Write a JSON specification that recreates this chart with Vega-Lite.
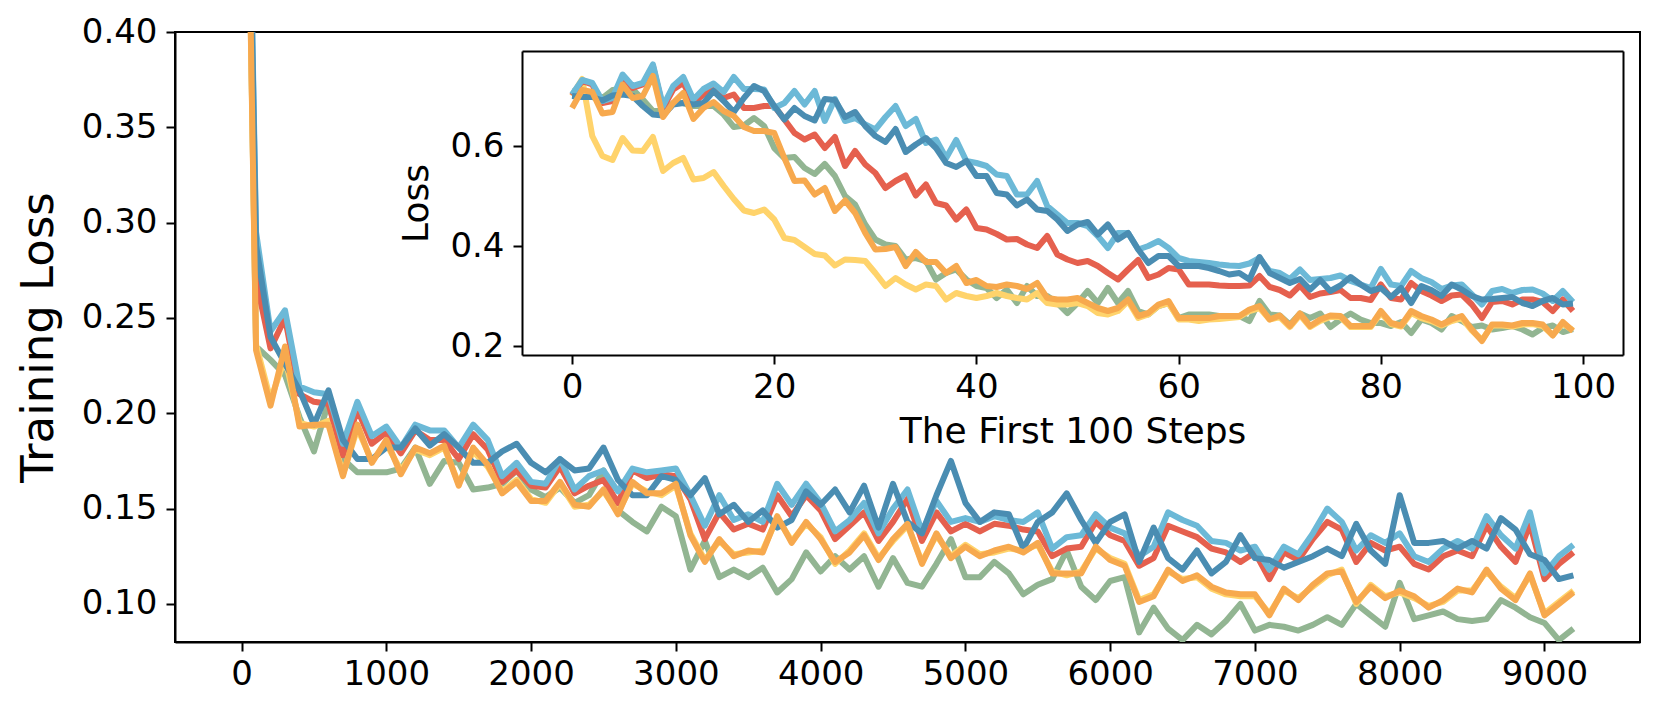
{
"$schema": "https://vega.github.io/schema/vega-lite/v6.json",
"width": 1465, "height": 610,
"autosize": "none",
"padding": {"left": 175, "top": 32, "right": 21, "bottom": 73},
"background": "white",
"config": {
 "view": {"stroke": "black", "strokeWidth": 2},
 "font": "DejaVu Sans",
 "line": {"strokeWidth": 6, "strokeJoin": "round", "strokeCap": "butt"},
 "axis": {"labelFont": "DejaVu Sans", "titleFont": "DejaVu Sans", "labelColor": "black", "titleColor": "black", "domainColor": "black", "tickColor": "black", "grid": false, "tickWidth": 2, "domainWidth": 2, "tickSize": 9, "labelFlush": false, "labelOverlap": false, "titleFontWeight": "normal"}
},
"datasets": {
"main": [
{"step":0,"lb":0.70,"db":0.70,"r":0.70,"g":0.70,"o":0.69,"yl":0.69},
{"step":100,"lb":0.295,"db":0.288,"r":0.270,"g":0.235,"o":0.233,"yl":0.236},
{"step":200,"lb":0.243,"db":0.240,"r":0.234,"g":0.228,"o":0.204,"yl":0.207},
{"step":300,"lb":0.254,"db":0.226,"r":0.250,"g":0.220,"o":0.235,"yl":0.229},
{"step":400,"lb":0.214,"db":0.212,"r":0.210,"g":0.198,"o":0.193,"yl":0.195},
{"step":500,"lb":0.211,"db":0.194,"r":0.206,"g":0.180,"o":0.194,"yl":0.193},
{"step":600,"lb":0.210,"db":0.212,"r":0.205,"g":0.206,"o":0.194,"yl":0.196},
{"step":700,"lb":0.184,"db":0.186,"r":0.178,"g":0.176,"o":0.167,"yl":0.168},
{"step":800,"lb":0.206,"db":0.176,"r":0.202,"g":0.169,"o":0.194,"yl":0.192},
{"step":900,"lb":0.188,"db":0.176,"r":0.184,"g":0.169,"o":0.174,"yl":0.175},
{"step":1000,"lb":0.193,"db":0.182,"r":0.190,"g":0.169,"o":0.186,"yl":0.184},
{"step":1100,"lb":0.182,"db":0.182,"r":0.179,"g":0.171,"o":0.168,"yl":0.170},
{"step":1200,"lb":0.194,"db":0.192,"r":0.191,"g":0.182,"o":0.182,"yl":0.181},
{"step":1300,"lb":0.191,"db":0.183,"r":0.186,"g":0.163,"o":0.179,"yl":0.178},
{"step":1400,"lb":0.191,"db":0.189,"r":0.186,"g":0.175,"o":0.183,"yl":0.182},
{"step":1500,"lb":0.182,"db":0.182,"r":0.176,"g":0.174,"o":0.162,"yl":0.163},
{"step":1600,"lb":0.194,"db":0.174,"r":0.189,"g":0.160,"o":0.182,"yl":0.180},
{"step":1700,"lb":0.186,"db":0.174,"r":0.181,"g":0.161,"o":0.173,"yl":0.172},
{"step":1800,"lb":0.167,"db":0.180,"r":0.164,"g":0.163,"o":0.158,"yl":0.159},
{"step":1900,"lb":0.174,"db":0.184,"r":0.170,"g":0.170,"o":0.164,"yl":0.165},
{"step":2000,"lb":0.164,"db":0.174,"r":0.162,"g":0.160,"o":0.154,"yl":0.155},
{"step":2100,"lb":0.163,"db":0.169,"r":0.161,"g":0.156,"o":0.154,"yl":0.153},
{"step":2200,"lb":0.176,"db":0.176,"r":0.172,"g":0.161,"o":0.164,"yl":0.163},
{"step":2300,"lb":0.160,"db":0.170,"r":0.158,"g":0.153,"o":0.152,"yl":0.151},
{"step":2400,"lb":0.167,"db":0.171,"r":0.162,"g":0.157,"o":0.151,"yl":0.152},
{"step":2500,"lb":0.170,"db":0.182,"r":0.165,"g":0.170,"o":0.160,"yl":0.159},
{"step":2600,"lb":0.159,"db":0.165,"r":0.153,"g":0.149,"o":0.147,"yl":0.148},
{"step":2700,"lb":0.171,"db":0.157,"r":0.170,"g":0.143,"o":0.164,"yl":0.163},
{"step":2800,"lb":0.169,"db":0.157,"r":0.166,"g":0.138,"o":0.158,"yl":0.159},
{"step":2900,"lb":0.170,"db":0.167,"r":0.168,"g":0.151,"o":0.158,"yl":0.157},
{"step":3000,"lb":0.171,"db":0.165,"r":0.167,"g":0.146,"o":0.163,"yl":0.162},
{"step":3100,"lb":0.157,"db":0.157,"r":0.155,"g":0.118,"o":0.136,"yl":0.137},
{"step":3200,"lb":0.141,"db":0.166,"r":0.134,"g":0.133,"o":0.122,"yl":0.123},
{"step":3300,"lb":0.157,"db":0.147,"r":0.148,"g":0.114,"o":0.134,"yl":0.133},
{"step":3400,"lb":0.144,"db":0.152,"r":0.139,"g":0.118,"o":0.125,"yl":0.126},
{"step":3500,"lb":0.147,"db":0.143,"r":0.142,"g":0.114,"o":0.128,"yl":0.127},
{"step":3600,"lb":0.143,"db":0.149,"r":0.139,"g":0.119,"o":0.127,"yl":0.128},
{"step":3700,"lb":0.163,"db":0.140,"r":0.157,"g":0.106,"o":0.146,"yl":0.145},
{"step":3800,"lb":0.152,"db":0.144,"r":0.146,"g":0.113,"o":0.132,"yl":0.133},
{"step":3900,"lb":0.163,"db":0.159,"r":0.157,"g":0.127,"o":0.143,"yl":0.142},
{"step":4000,"lb":0.153,"db":0.152,"r":0.149,"g":0.117,"o":0.134,"yl":0.135},
{"step":4100,"lb":0.138,"db":0.160,"r":0.134,"g":0.125,"o":0.122,"yl":0.121},
{"step":4200,"lb":0.144,"db":0.148,"r":0.141,"g":0.118,"o":0.127,"yl":0.128},
{"step":4300,"lb":0.153,"db":0.162,"r":0.148,"g":0.125,"o":0.136,"yl":0.137},
{"step":4400,"lb":0.137,"db":0.140,"r":0.133,"g":0.109,"o":0.123,"yl":0.124},
{"step":4500,"lb":0.150,"db":0.163,"r":0.143,"g":0.124,"o":0.134,"yl":0.133},
{"step":4600,"lb":0.160,"db":0.143,"r":0.155,"g":0.111,"o":0.142,"yl":0.141},
{"step":4700,"lb":0.138,"db":0.137,"r":0.133,"g":0.109,"o":0.121,"yl":0.122},
{"step":4800,"lb":0.154,"db":0.157,"r":0.148,"g":0.121,"o":0.137,"yl":0.136},
{"step":4900,"lb":0.143,"db":0.175,"r":0.138,"g":0.134,"o":0.124,"yl":0.125},
{"step":5000,"lb":0.145,"db":0.153,"r":0.142,"g":0.114,"o":0.130,"yl":0.131},
{"step":5100,"lb":0.143,"db":0.143,"r":0.138,"g":0.114,"o":0.125,"yl":0.126},
{"step":5200,"lb":0.146,"db":0.148,"r":0.142,"g":0.122,"o":0.128,"yl":0.127},
{"step":5300,"lb":0.144,"db":0.147,"r":0.141,"g":0.116,"o":0.130,"yl":0.129},
{"step":5400,"lb":0.143,"db":0.129,"r":0.139,"g":0.105,"o":0.127,"yl":0.128},
{"step":5500,"lb":0.148,"db":0.143,"r":0.138,"g":0.110,"o":0.132,"yl":0.131},
{"step":5600,"lb":0.129,"db":0.148,"r":0.125,"g":0.113,"o":0.116,"yl":0.117},
{"step":5700,"lb":0.135,"db":0.158,"r":0.129,"g":0.128,"o":0.116,"yl":0.115},
{"step":5800,"lb":0.136,"db":0.144,"r":0.130,"g":0.109,"o":0.116,"yl":0.117},
{"step":5900,"lb":0.147,"db":0.132,"r":0.143,"g":0.102,"o":0.130,"yl":0.129},
{"step":6000,"lb":0.140,"db":0.143,"r":0.136,"g":0.112,"o":0.123,"yl":0.124},
{"step":6100,"lb":0.137,"db":0.147,"r":0.133,"g":0.114,"o":0.120,"yl":0.121},
{"step":6200,"lb":0.125,"db":0.122,"r":0.120,"g":0.085,"o":0.101,"yl":0.102},
{"step":6300,"lb":0.130,"db":0.140,"r":0.124,"g":0.098,"o":0.104,"yl":0.105},
{"step":6400,"lb":0.148,"db":0.124,"r":0.141,"g":0.087,"o":0.118,"yl":0.117},
{"step":6500,"lb":0.144,"db":0.118,"r":0.138,"g":0.081,"o":0.112,"yl":0.113},
{"step":6600,"lb":0.141,"db":0.128,"r":0.135,"g":0.089,"o":0.115,"yl":0.114},
{"step":6700,"lb":0.133,"db":0.116,"r":0.129,"g":0.084,"o":0.109,"yl":0.108},
{"step":6800,"lb":0.132,"db":0.122,"r":0.127,"g":0.091,"o":0.106,"yl":0.105},
{"step":6900,"lb":0.128,"db":0.136,"r":0.122,"g":0.100,"o":0.105,"yl":0.104},
{"step":7000,"lb":0.130,"db":0.124,"r":0.127,"g":0.086,"o":0.105,"yl":0.104},
{"step":7100,"lb":0.118,"db":0.123,"r":0.113,"g":0.089,"o":0.094,"yl":0.095},
{"step":7200,"lb":0.130,"db":0.119,"r":0.127,"g":0.088,"o":0.108,"yl":0.107},
{"step":7300,"lb":0.126,"db":0.122,"r":0.123,"g":0.086,"o":0.102,"yl":0.103},
{"step":7400,"lb":0.137,"db":0.125,"r":0.134,"g":0.089,"o":0.110,"yl":0.109},
{"step":7500,"lb":0.150,"db":0.129,"r":0.143,"g":0.093,"o":0.116,"yl":0.115},
{"step":7600,"lb":0.143,"db":0.125,"r":0.139,"g":0.089,"o":0.117,"yl":0.118},
{"step":7700,"lb":0.128,"db":0.142,"r":0.122,"g":0.100,"o":0.101,"yl":0.100},
{"step":7800,"lb":0.136,"db":0.128,"r":0.132,"g":0.094,"o":0.109,"yl":0.110},
{"step":7900,"lb":0.132,"db":0.121,"r":0.128,"g":0.088,"o":0.103,"yl":0.104},
{"step":8000,"lb":0.137,"db":0.157,"r":0.130,"g":0.111,"o":0.107,"yl":0.106},
{"step":8100,"lb":0.125,"db":0.132,"r":0.121,"g":0.092,"o":0.104,"yl":0.103},
{"step":8200,"lb":0.122,"db":0.132,"r":0.118,"g":0.094,"o":0.098,"yl":0.099},
{"step":8300,"lb":0.129,"db":0.133,"r":0.125,"g":0.096,"o":0.102,"yl":0.101},
{"step":8400,"lb":0.133,"db":0.129,"r":0.128,"g":0.092,"o":0.108,"yl":0.107},
{"step":8500,"lb":0.129,"db":0.133,"r":0.125,"g":0.091,"o":0.106,"yl":0.107},
{"step":8600,"lb":0.146,"db":0.129,"r":0.141,"g":0.092,"o":0.118,"yl":0.117},
{"step":8700,"lb":0.136,"db":0.145,"r":0.130,"g":0.102,"o":0.108,"yl":0.109},
{"step":8800,"lb":0.129,"db":0.139,"r":0.122,"g":0.098,"o":0.102,"yl":0.103},
{"step":8900,"lb":0.148,"db":0.126,"r":0.142,"g":0.093,"o":0.116,"yl":0.115},
{"step":9000,"lb":0.116,"db":0.123,"r":0.113,"g":0.090,"o":0.094,"yl":0.095},
{"step":9100,"lb":0.125,"db":0.113,"r":0.121,"g":0.081,"o":0.100,"yl":0.101},
{"step":9200,"lb":0.131,"db":0.115,"r":0.127,"g":0.087,"o":0.106,"yl":0.107}
],
"inset": [
{"step":0,"lb":0.703,"db":0.700,"r":0.701,"g":0.710,"o":0.676,"yl":0.700},
{"step":1,"lb":0.732,"db":0.698,"r":0.730,"g":0.706,"o":0.712,"yl":0.734},
{"step":2,"lb":0.726,"db":0.698,"r":0.723,"g":0.705,"o":0.708,"yl":0.620},
{"step":3,"lb":0.690,"db":0.691,"r":0.686,"g":0.696,"o":0.665,"yl":0.580},
{"step":4,"lb":0.696,"db":0.701,"r":0.690,"g":0.712,"o":0.668,"yl":0.572},
{"step":5,"lb":0.743,"db":0.703,"r":0.738,"g":0.714,"o":0.723,"yl":0.616},
{"step":6,"lb":0.720,"db":0.700,"r":0.716,"g":0.713,"o":0.696,"yl":0.591},
{"step":7,"lb":0.726,"db":0.680,"r":0.723,"g":0.693,"o":0.700,"yl":0.590},
{"step":8,"lb":0.763,"db":0.663,"r":0.760,"g":0.670,"o":0.740,"yl":0.618},
{"step":9,"lb":0.680,"db":0.661,"r":0.676,"g":0.670,"o":0.658,"yl":0.550},
{"step":10,"lb":0.720,"db":0.683,"r":0.713,"g":0.686,"o":0.686,"yl":0.566},
{"step":11,"lb":0.738,"db":0.686,"r":0.726,"g":0.686,"o":0.706,"yl":0.576},
{"step":12,"lb":0.693,"db":0.683,"r":0.686,"g":0.680,"o":0.654,"yl":0.533},
{"step":13,"lb":0.714,"db":0.686,"r":0.703,"g":0.680,"o":0.676,"yl":0.536},
{"step":14,"lb":0.725,"db":0.710,"r":0.713,"g":0.680,"o":0.688,"yl":0.548},
{"step":15,"lb":0.708,"db":0.690,"r":0.696,"g":0.663,"o":0.670,"yl":0.520},
{"step":16,"lb":0.738,"db":0.668,"r":0.703,"g":0.638,"o":0.660,"yl":0.494},
{"step":17,"lb":0.714,"db":0.696,"r":0.676,"g":0.641,"o":0.638,"yl":0.471},
{"step":18,"lb":0.714,"db":0.720,"r":0.676,"g":0.656,"o":0.630,"yl":0.466},
{"step":19,"lb":0.713,"db":0.710,"r":0.680,"g":0.640,"o":0.630,"yl":0.473},
{"step":20,"lb":0.676,"db":0.680,"r":0.680,"g":0.596,"o":0.626,"yl":0.453},
{"step":21,"lb":0.686,"db":0.653,"r":0.653,"g":0.576,"o":0.576,"yl":0.416},
{"step":22,"lb":0.710,"db":0.676,"r":0.626,"g":0.578,"o":0.530,"yl":0.412},
{"step":23,"lb":0.683,"db":0.660,"r":0.613,"g":0.556,"o":0.531,"yl":0.398},
{"step":24,"lb":0.710,"db":0.651,"r":0.623,"g":0.544,"o":0.503,"yl":0.384},
{"step":25,"lb":0.650,"db":0.694,"r":0.596,"g":0.564,"o":0.516,"yl":0.381},
{"step":26,"lb":0.694,"db":0.692,"r":0.618,"g":0.540,"o":0.470,"yl":0.361},
{"step":27,"lb":0.650,"db":0.658,"r":0.560,"g":0.500,"o":0.491,"yl":0.373},
{"step":28,"lb":0.656,"db":0.668,"r":0.590,"g":0.483,"o":0.466,"yl":0.372},
{"step":29,"lb":0.643,"db":0.640,"r":0.563,"g":0.443,"o":0.426,"yl":0.370},
{"step":30,"lb":0.633,"db":0.620,"r":0.546,"g":0.413,"o":0.393,"yl":0.346},
{"step":31,"lb":0.658,"db":0.608,"r":0.516,"g":0.403,"o":0.394,"yl":0.320},
{"step":32,"lb":0.680,"db":0.634,"r":0.530,"g":0.400,"o":0.398,"yl":0.336},
{"step":33,"lb":0.640,"db":0.588,"r":0.541,"g":0.373,"o":0.360,"yl":0.323},
{"step":34,"lb":0.654,"db":0.603,"r":0.501,"g":0.376,"o":0.388,"yl":0.313},
{"step":35,"lb":0.606,"db":0.616,"r":0.523,"g":0.370,"o":0.368,"yl":0.323},
{"step":36,"lb":0.613,"db":0.596,"r":0.486,"g":0.333,"o":0.368,"yl":0.320},
{"step":37,"lb":0.576,"db":0.566,"r":0.481,"g":0.346,"o":0.346,"yl":0.293},
{"step":38,"lb":0.612,"db":0.558,"r":0.453,"g":0.353,"o":0.360,"yl":0.306},
{"step":39,"lb":0.570,"db":0.570,"r":0.473,"g":0.333,"o":0.326,"yl":0.300},
{"step":40,"lb":0.566,"db":0.540,"r":0.436,"g":0.320,"o":0.332,"yl":0.296},
{"step":41,"lb":0.560,"db":0.540,"r":0.433,"g":0.316,"o":0.320,"yl":0.300},
{"step":42,"lb":0.543,"db":0.506,"r":0.424,"g":0.296,"o":0.318,"yl":0.306},
{"step":43,"lb":0.540,"db":0.503,"r":0.413,"g":0.313,"o":0.323,"yl":0.300},
{"step":44,"lb":0.503,"db":0.481,"r":0.414,"g":0.286,"o":0.320,"yl":0.296},
{"step":45,"lb":0.503,"db":0.493,"r":0.403,"g":0.320,"o":0.314,"yl":0.293},
{"step":46,"lb":0.530,"db":0.473,"r":0.396,"g":0.300,"o":0.326,"yl":0.306},
{"step":47,"lb":0.480,"db":0.470,"r":0.420,"g":0.300,"o":0.296,"yl":0.286},
{"step":48,"lb":0.463,"db":0.453,"r":0.383,"g":0.286,"o":0.293,"yl":0.283},
{"step":49,"lb":0.446,"db":0.430,"r":0.373,"g":0.266,"o":0.293,"yl":0.283},
{"step":50,"lb":0.446,"db":0.443,"r":0.366,"g":0.286,"o":0.296,"yl":0.286},
{"step":51,"lb":0.440,"db":0.448,"r":0.370,"g":0.310,"o":0.286,"yl":0.280},
{"step":52,"lb":0.420,"db":0.423,"r":0.360,"g":0.286,"o":0.276,"yl":0.266},
{"step":53,"lb":0.396,"db":0.443,"r":0.346,"g":0.316,"o":0.270,"yl":0.263},
{"step":54,"lb":0.426,"db":0.413,"r":0.333,"g":0.286,"o":0.276,"yl":0.270},
{"step":55,"lb":0.426,"db":0.426,"r":0.353,"g":0.310,"o":0.293,"yl":0.290},
{"step":56,"lb":0.393,"db":0.393,"r":0.372,"g":0.270,"o":0.260,"yl":0.256},
{"step":57,"lb":0.400,"db":0.366,"r":0.336,"g":0.263,"o":0.266,"yl":0.263},
{"step":58,"lb":0.410,"db":0.380,"r":0.343,"g":0.280,"o":0.283,"yl":0.280},
{"step":59,"lb":0.396,"db":0.380,"r":0.356,"g":0.286,"o":0.290,"yl":0.286},
{"step":60,"lb":0.376,"db":0.360,"r":0.353,"g":0.256,"o":0.256,"yl":0.253},
{"step":61,"lb":0.370,"db":0.360,"r":0.323,"g":0.263,"o":0.256,"yl":0.253},
{"step":62,"lb":0.368,"db":0.360,"r":0.323,"g":0.263,"o":0.256,"yl":0.250},
{"step":63,"lb":0.366,"db":0.356,"r":0.323,"g":0.263,"o":0.256,"yl":0.253},
{"step":64,"lb":0.363,"db":0.350,"r":0.321,"g":0.260,"o":0.260,"yl":0.254},
{"step":65,"lb":0.361,"db":0.343,"r":0.320,"g":0.260,"o":0.260,"yl":0.256},
{"step":66,"lb":0.360,"db":0.346,"r":0.320,"g":0.260,"o":0.260,"yl":0.258},
{"step":67,"lb":0.365,"db":0.333,"r":0.321,"g":0.250,"o":0.273,"yl":0.270},
{"step":68,"lb":0.376,"db":0.378,"r":0.340,"g":0.290,"o":0.280,"yl":0.276},
{"step":69,"lb":0.350,"db":0.346,"r":0.318,"g":0.263,"o":0.253,"yl":0.253},
{"step":70,"lb":0.346,"db":0.336,"r":0.312,"g":0.261,"o":0.261,"yl":0.258},
{"step":71,"lb":0.334,"db":0.326,"r":0.301,"g":0.243,"o":0.240,"yl":0.238},
{"step":72,"lb":0.353,"db":0.334,"r":0.321,"g":0.265,"o":0.265,"yl":0.262},
{"step":73,"lb":0.332,"db":0.313,"r":0.298,"g":0.256,"o":0.240,"yl":0.238},
{"step":74,"lb":0.334,"db":0.332,"r":0.305,"g":0.265,"o":0.253,"yl":0.250},
{"step":75,"lb":0.336,"db":0.310,"r":0.308,"g":0.238,"o":0.261,"yl":0.258},
{"step":76,"lb":0.341,"db":0.321,"r":0.312,"g":0.253,"o":0.260,"yl":0.258},
{"step":77,"lb":0.330,"db":0.338,"r":0.296,"g":0.265,"o":0.240,"yl":0.238},
{"step":78,"lb":0.323,"db":0.323,"r":0.296,"g":0.253,"o":0.240,"yl":0.238},
{"step":79,"lb":0.316,"db":0.310,"r":0.292,"g":0.246,"o":0.240,"yl":0.238},
{"step":80,"lb":0.354,"db":0.316,"r":0.323,"g":0.246,"o":0.270,"yl":0.266},
{"step":81,"lb":0.323,"db":0.298,"r":0.296,"g":0.240,"o":0.246,"yl":0.244},
{"step":82,"lb":0.320,"db":0.316,"r":0.293,"g":0.248,"o":0.241,"yl":0.239},
{"step":83,"lb":0.350,"db":0.286,"r":0.326,"g":0.226,"o":0.270,"yl":0.266},
{"step":84,"lb":0.336,"db":0.320,"r":0.310,"g":0.253,"o":0.260,"yl":0.256},
{"step":85,"lb":0.328,"db":0.312,"r":0.301,"g":0.246,"o":0.253,"yl":0.250},
{"step":86,"lb":0.314,"db":0.300,"r":0.290,"g":0.233,"o":0.243,"yl":0.241},
{"step":87,"lb":0.321,"db":0.323,"r":0.301,"g":0.260,"o":0.253,"yl":0.250},
{"step":88,"lb":0.323,"db":0.313,"r":0.303,"g":0.250,"o":0.260,"yl":0.256},
{"step":89,"lb":0.303,"db":0.300,"r":0.283,"g":0.238,"o":0.233,"yl":0.231},
{"step":90,"lb":0.283,"db":0.293,"r":0.256,"g":0.241,"o":0.210,"yl":0.212},
{"step":91,"lb":0.310,"db":0.294,"r":0.288,"g":0.233,"o":0.243,"yl":0.241},
{"step":92,"lb":0.314,"db":0.296,"r":0.290,"g":0.236,"o":0.243,"yl":0.241},
{"step":93,"lb":0.306,"db":0.298,"r":0.283,"g":0.240,"o":0.241,"yl":0.239},
{"step":94,"lb":0.312,"db":0.286,"r":0.293,"g":0.233,"o":0.246,"yl":0.243},
{"step":95,"lb":0.313,"db":0.280,"r":0.293,"g":0.223,"o":0.246,"yl":0.244},
{"step":96,"lb":0.305,"db":0.290,"r":0.288,"g":0.236,"o":0.243,"yl":0.240},
{"step":97,"lb":0.290,"db":0.296,"r":0.270,"g":0.241,"o":0.221,"yl":0.222},
{"step":98,"lb":0.310,"db":0.283,"r":0.293,"g":0.228,"o":0.248,"yl":0.245},
{"step":99,"lb":0.288,"db":0.285,"r":0.270,"g":0.234,"o":0.230,"yl":0.231}
]
},
"layer": [
 {
  "data": {"name": "main"},
  "encoding": {"x": {"field": "step", "type": "quantitative", "scale": {"domain": [-460, 9660], "nice": false, "zero": false}, "axis": {"values": [0,1000,2000,3000,4000,5000,6000,7000,8000,9000], "format": "d", "title": null, "labelFontSize": 34, "labelPadding": 6}}},
  "layer": [
   {"mark": {"type": "line", "color": "#92b592", "clip": true, "strokeWidth": 6}, "encoding": {"y": {"field": "g", "type": "quantitative", "scale": {"domain": [0.08, 0.4], "nice": false, "zero": false}, "axis": {"values": [0.1,0.15,0.2,0.25,0.3,0.35,0.4], "format": ".2f", "title": "Training Loss", "titleFontSize": 45, "titlePadding": 20, "labelFontSize": 34, "labelPadding": 9}}}},
   {"mark": {"type": "line", "color": "#ffd36b", "clip": true, "strokeWidth": 6}, "encoding": {"y": {"field": "yl", "type": "quantitative", "scale": {"domain": [0.08, 0.4], "nice": false, "zero": false}, "axis": {"values": [0.1,0.15,0.2,0.25,0.3,0.35,0.4], "format": ".2f", "title": "Training Loss", "titleFontSize": 45, "titlePadding": 20, "labelFontSize": 34, "labelPadding": 9}}}},
   {"mark": {"type": "line", "color": "#e5604e", "clip": true, "strokeWidth": 6}, "encoding": {"y": {"field": "r", "type": "quantitative", "scale": {"domain": [0.08, 0.4], "nice": false, "zero": false}, "axis": {"values": [0.1,0.15,0.2,0.25,0.3,0.35,0.4], "format": ".2f", "title": "Training Loss", "titleFontSize": 45, "titlePadding": 20, "labelFontSize": 34, "labelPadding": 9}}}},
   {"mark": {"type": "line", "color": "#6cb9d7", "clip": true, "strokeWidth": 6}, "encoding": {"y": {"field": "lb", "type": "quantitative", "scale": {"domain": [0.08, 0.4], "nice": false, "zero": false}, "axis": {"values": [0.1,0.15,0.2,0.25,0.3,0.35,0.4], "format": ".2f", "title": "Training Loss", "titleFontSize": 45, "titlePadding": 20, "labelFontSize": 34, "labelPadding": 9}}}},
   {"mark": {"type": "line", "color": "#4a8db2", "clip": true, "strokeWidth": 6}, "encoding": {"y": {"field": "db", "type": "quantitative", "scale": {"domain": [0.08, 0.4], "nice": false, "zero": false}, "axis": {"values": [0.1,0.15,0.2,0.25,0.3,0.35,0.4], "format": ".2f", "title": "Training Loss", "titleFontSize": 45, "titlePadding": 20, "labelFontSize": 34, "labelPadding": 9}}}},
   {"mark": {"type": "line", "color": "#f7a94e", "clip": true, "strokeWidth": 6}, "encoding": {"y": {"field": "o", "type": "quantitative", "scale": {"domain": [0.08, 0.4], "nice": false, "zero": false}, "axis": {"values": [0.1,0.15,0.2,0.25,0.3,0.35,0.4], "format": ".2f", "title": "Training Loss", "titleFontSize": 45, "titlePadding": 20, "labelFontSize": 34, "labelPadding": 9}}}}
  ]
 },
 {
  "data": {"name": "inset"},
  "encoding": {"x": {"field": "step", "type": "quantitative", "scale": {"domain": [-4.95, 103.95], "range": [347, 1448], "nice": false, "zero": false}, "axis": {"values": [0,20,40,60,80,100], "format": "d", "orient": "bottom", "offset": -287, "title": "The First 100 Steps", "titleFontSize": 36, "titlePadding": 10, "labelFontSize": 34, "labelPadding": 6, "zindex": 1}}},
  "layer": [
   {"mark": {"type": "line", "color": "#92b592", "strokeWidth": 6}, "encoding": {"y": {"field": "g", "type": "quantitative", "scale": {"domain": [0.182, 0.79], "range": [323, 19], "nice": false, "zero": false}, "axis": {"values": [0.2,0.4,0.6], "format": ".1f", "orient": "left", "offset": -347, "title": "Loss", "titleFontSize": 36, "titlePadding": 14, "labelFontSize": 34, "labelPadding": 9, "zindex": 1}}}},
   {"mark": {"type": "line", "color": "#ffd36b", "strokeWidth": 6}, "encoding": {"y": {"field": "yl", "type": "quantitative", "scale": {"domain": [0.182, 0.79], "range": [323, 19], "nice": false, "zero": false}, "axis": {"values": [0.2,0.4,0.6], "format": ".1f", "orient": "left", "offset": -347, "title": "Loss", "titleFontSize": 36, "titlePadding": 14, "labelFontSize": 34, "labelPadding": 9, "zindex": 1}}}},
   {"mark": {"type": "line", "color": "#e5604e", "strokeWidth": 6}, "encoding": {"y": {"field": "r", "type": "quantitative", "scale": {"domain": [0.182, 0.79], "range": [323, 19], "nice": false, "zero": false}, "axis": {"values": [0.2,0.4,0.6], "format": ".1f", "orient": "left", "offset": -347, "title": "Loss", "titleFontSize": 36, "titlePadding": 14, "labelFontSize": 34, "labelPadding": 9, "zindex": 1}}}},
   {"mark": {"type": "line", "color": "#6cb9d7", "strokeWidth": 6}, "encoding": {"y": {"field": "lb", "type": "quantitative", "scale": {"domain": [0.182, 0.79], "range": [323, 19], "nice": false, "zero": false}, "axis": {"values": [0.2,0.4,0.6], "format": ".1f", "orient": "left", "offset": -347, "title": "Loss", "titleFontSize": 36, "titlePadding": 14, "labelFontSize": 34, "labelPadding": 9, "zindex": 1}}}},
   {"mark": {"type": "line", "color": "#4a8db2", "strokeWidth": 6}, "encoding": {"y": {"field": "db", "type": "quantitative", "scale": {"domain": [0.182, 0.79], "range": [323, 19], "nice": false, "zero": false}, "axis": {"values": [0.2,0.4,0.6], "format": ".1f", "orient": "left", "offset": -347, "title": "Loss", "titleFontSize": 36, "titlePadding": 14, "labelFontSize": 34, "labelPadding": 9, "zindex": 1}}}},
   {"mark": {"type": "line", "color": "#f7a94e", "strokeWidth": 6}, "encoding": {"y": {"field": "o", "type": "quantitative", "scale": {"domain": [0.182, 0.79], "range": [323, 19], "nice": false, "zero": false}, "axis": {"values": [0.2,0.4,0.6], "format": ".1f", "orient": "left", "offset": -347, "title": "Loss", "titleFontSize": 36, "titlePadding": 14, "labelFontSize": 34, "labelPadding": 9, "zindex": 1}}}}
  ]
 },
 {
  "data": {"name": "inset"},
  "mark": {"type": "line", "opacity": 0},
  "encoding": {
   "x": {"field": "step", "type": "quantitative", "scale": {"domain": [-4.95, 103.95], "range": [347, 1448], "nice": false, "zero": false}, "axis": {"orient": "top", "offset": -19, "ticks": false, "labels": false, "title": null, "domain": true, "zindex": 1}},
   "y": {"field": "g", "type": "quantitative", "scale": {"domain": [0.182, 0.79], "range": [323, 19], "nice": false, "zero": false}, "axis": {"orient": "right", "offset": -17, "ticks": false, "labels": false, "title": null, "domain": true, "zindex": 1}}
  }
 }
],
"resolve": {"scale": {"x": "independent", "y": "independent"}, "axis": {"x": "independent", "y": "independent"}}
}
